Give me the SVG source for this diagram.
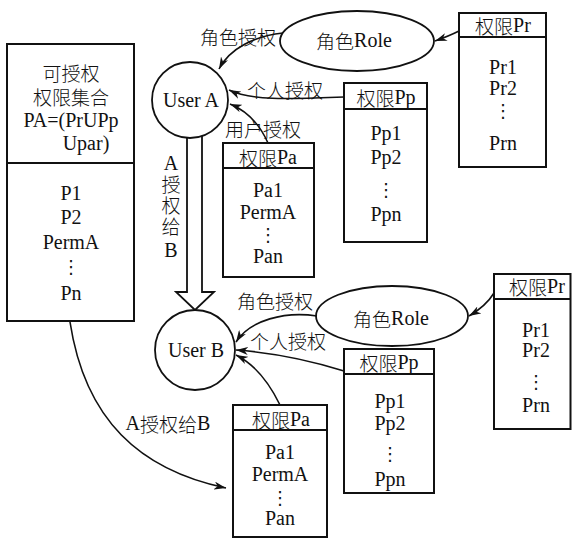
<svg xmlns="http://www.w3.org/2000/svg" width="572" height="539" viewBox="0 0 572 539">
<style>
.s{font-family:"Liberation Serif",serif !important;font-size:20px;fill:#111;text-anchor:middle;dominant-baseline:central}
.c{font-family:"Noto Sans CJK SC",sans-serif !important;font-size:19px;font-weight:300}
.v{writing-mode:vertical-rl;text-orientation:upright;letter-spacing:2px}
.box{fill:#fff;stroke:#111;stroke-width:2}
.shape{fill:#fff;stroke:#111;stroke-width:1.8}
.con{fill:none;stroke:#111;stroke-width:1.6}
.dots{font-family:"DejaVu Sans",sans-serif !important;font-size:18px}
</style>
<defs>
<marker id="ah" markerUnits="userSpaceOnUse" markerWidth="13" markerHeight="8" refX="12" refY="4" orient="auto">
<path d="M0,0 L12,4 L0,8 L3.5,4 z" fill="#111"/>
</marker>
</defs>
<rect width="572" height="539" fill="#fff"/>

<g id="left-set">
<rect class="box" x="7" y="44" width="127" height="277"/>
<line class="box" x1="7" y1="163" x2="134" y2="163"/>
<text class="s c"><tspan x="71" y="72">可授权</tspan><tspan x="71" y="96">权限集合</tspan></text>
<text class="s" font-family="Liberation Serif"><tspan x="71" y="120">PA=(PrUPp</tspan><tspan x="86" y="143">Upar)</tspan></text>
<text class="s" font-family="Liberation Serif" x="71" y="193">P1</text>
<text class="s" font-family="Liberation Serif" x="71" y="217">P2</text>
<text class="s" font-family="Liberation Serif" x="71" y="242">PermA</text>
<text class="s dots" x="71" y="266">⋮</text>
<text class="s" font-family="Liberation Serif" x="71" y="293">Pn</text>
</g>

<g id="transfer-arrow">
<polygon class="shape" points="187,130 187,292 176,292 195,310 214,292 202,292 202,130"/>
<text class="s v" x="171" y="207">A<tspan class="c">授权给</tspan>B</text>
</g>

<g id="userA">
<circle class="shape" cx="190" cy="100" r="38"/>
<text class="s" font-family="Liberation Serif" x="191" y="100">User A</text>
</g>

<g id="roleA">
<ellipse class="shape" cx="357" cy="41" rx="77" ry="30"/>
<text class="s" x="354" y="40"><tspan class="c">角色</tspan>Role</text>
</g>

<g id="prA">
<rect class="box" x="459" y="13" width="87" height="154"/>
<line class="box" x1="459" y1="37" x2="546" y2="37"/>
<text class="s" x="503" y="25"><tspan class="c">权限</tspan>Pr</text>
<text class="s" font-family="Liberation Serif" x="503" y="67">Pr1</text>
<text class="s" font-family="Liberation Serif" x="503" y="88">Pr2</text>
<text class="s dots" x="503" y="110">⋮</text>
<text class="s" font-family="Liberation Serif" x="503" y="143">Prn</text>
</g>

<g id="ppA">
<rect class="box" x="344" y="83" width="83" height="159"/>
<line class="box" x1="344" y1="109" x2="427" y2="109"/>
<text class="s" x="386" y="97"><tspan class="c">权限</tspan>Pp</text>
<text class="s" font-family="Liberation Serif" x="386" y="133">Pp1</text>
<text class="s" font-family="Liberation Serif" x="386" y="157">Pp2</text>
<text class="s dots" x="386" y="189">⋮</text>
<text class="s" font-family="Liberation Serif" x="386" y="214">Ppn</text>
</g>

<g id="paA">
<rect class="box" x="223" y="143" width="91" height="134"/>
<line class="box" x1="223" y1="168" x2="314" y2="168"/>
<text class="s" x="268" y="157"><tspan class="c">权限</tspan>Pa</text>
<text class="s" font-family="Liberation Serif" x="268" y="190">Pa1</text>
<text class="s" font-family="Liberation Serif" x="268" y="212">PermA</text>
<text class="s dots" x="268" y="234">⋮</text>
<text class="s" font-family="Liberation Serif" x="268" y="256">Pan</text>
</g>

<g id="userB">
<circle class="shape" cx="195" cy="350" r="40"/>
<text class="s" font-family="Liberation Serif" x="196" y="350">User B</text>
</g>

<g id="roleB">
<ellipse class="shape" cx="392" cy="316" rx="76" ry="30"/>
<text class="s" x="391" y="318"><tspan class="c">角色</tspan>Role</text>
</g>

<g id="prB">
<rect class="box" x="494" y="274" width="76.5" height="155"/>
<line class="box" x1="494" y1="299" x2="571" y2="299"/>
<text class="s" x="537" y="286"><tspan class="c">权限</tspan>Pr</text>
<text class="s" font-family="Liberation Serif" x="536" y="330">Pr1</text>
<text class="s" font-family="Liberation Serif" x="536" y="350">Pr2</text>
<text class="s dots" x="536" y="381">⋮</text>
<text class="s" font-family="Liberation Serif" x="536" y="405">Prn</text>
</g>

<g id="ppB">
<rect class="box" x="344" y="349" width="90" height="144"/>
<line class="box" x1="344" y1="374" x2="434" y2="374"/>
<text class="s" x="389" y="362"><tspan class="c">权限</tspan>Pp</text>
<text class="s" font-family="Liberation Serif" x="390" y="401">Pp1</text>
<text class="s" font-family="Liberation Serif" x="390" y="423">Pp2</text>
<text class="s dots" x="390" y="453">⋮</text>
<text class="s" font-family="Liberation Serif" x="390" y="479">Ppn</text>
</g>

<g id="paB">
<rect class="box" x="233" y="405" width="94" height="132"/>
<line class="box" x1="233" y1="430" x2="327" y2="430"/>
<text class="s" x="281" y="419"><tspan class="c">权限</tspan>Pa</text>
<text class="s" font-family="Liberation Serif" x="280" y="452">Pa1</text>
<text class="s" font-family="Liberation Serif" x="280" y="474">PermA</text>
<text class="s dots" x="280" y="497">⋮</text>
<text class="s" font-family="Liberation Serif" x="280" y="518">Pan</text>
</g>

<g id="connectors">
<path class="con" marker-end="url(#ah)" d="M459,31 Q449,36 435,41"/>
<path class="con" marker-end="url(#ah)" d="M283,33 C255,36 230,48 219,69"/>
<path class="con" marker-end="url(#ah)" d="M344,97 C290,99 252,101 229,90"/>
<path class="con" marker-end="url(#ah)" d="M268,143 Q255,114 230,104"/>
<path class="con" marker-end="url(#ah)" d="M494,293 Q486,306 469,316"/>
<path class="con" marker-end="url(#ah)" d="M317,316 C285,311 250,320 236,342"/>
<path class="con" marker-end="url(#ah)" d="M344,371 Q290,354 236,350"/>
<path class="con" marker-end="url(#ah)" d="M280,405 Q262,368 236,355"/>
<path class="con" marker-end="url(#ah)" d="M70,322 C85,420 140,470 226,488"/>
<text class="s c" x="238" y="36">角色授权</text>
<text class="s c" x="285" y="89">个人授权</text>
<text class="s c" x="263" y="128">用户授权</text>
<text class="s c" x="275" y="300">角色授权</text>
<text class="s c" x="288" y="340">个人授权</text>
<text class="s" x="168" y="423">A<tspan class="c">授权给</tspan>B</text>
</g>
</svg>
